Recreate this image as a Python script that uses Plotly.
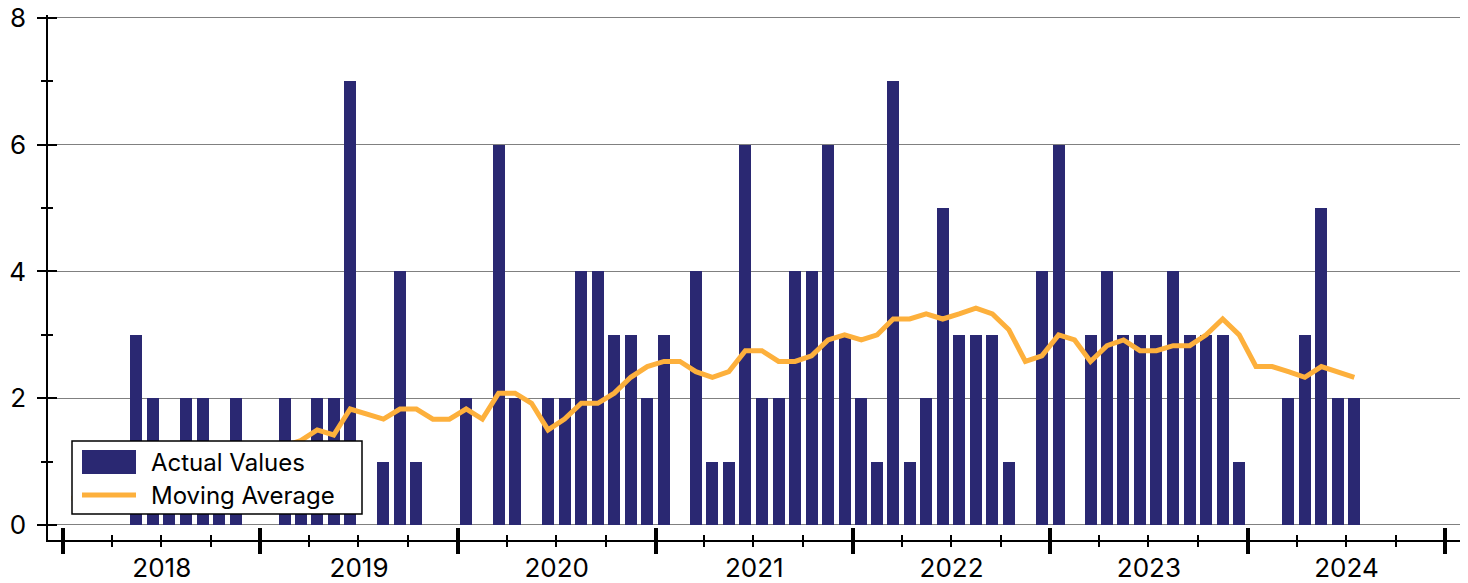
import pandas as pd
import plotly.graph_objects as go

# monthly counts, Jan 2018 .. Jul 2024
actual_values = [
	0, 0, 0, 0, 3, 2, 1, 2, 2, 1, 2, 0,
	0, 2, 1, 2, 2, 7, 0, 1, 4, 1, 0, 0,
	2, 0, 6, 2, 0, 2, 2, 4, 4, 3, 3, 2,
	3, 0, 4, 1, 1, 6, 2, 2, 4, 4, 6, 3,
	2, 1, 7, 1, 2, 5, 3, 3, 3, 1, 0, 4,
	6, 0, 3, 4, 3, 3, 3, 4, 3, 3, 3, 1,
	0, 0, 2, 3, 5, 2, 2,
]
moving_average = [
	0.42, 0.42, 0.33, 0.33, 0.50, 0.58, 0.67, 0.83, 0.92, 0.92, 1.08, 1.08,
	1.08, 1.25, 1.33, 1.50, 1.42, 1.83, 1.75, 1.67, 1.83, 1.83, 1.67, 1.67,
	1.83, 1.67, 2.08, 2.08, 1.92, 1.50, 1.67, 1.92, 1.92, 2.08, 2.33, 2.50,
	2.58, 2.58, 2.42, 2.33, 2.42, 2.75, 2.75, 2.58, 2.58, 2.67, 2.92, 3.00,
	2.92, 3.00, 3.25, 3.25, 3.33, 3.25, 3.33, 3.42, 3.33, 3.08, 2.58, 2.67,
	3.00, 2.92, 2.58, 2.83, 2.92, 2.75, 2.75, 2.83, 2.83, 3.00, 3.25, 3.00,
	2.50, 2.50, 2.42, 2.33, 2.50, 2.42, 2.33,
]
months = pd.date_range('2018-01-01', periods=len(actual_values), freq='MS')
legend_labels = ['Actual Values', 'Moving Average']

BAR_COLOR = '#2a2872'
LINE_COLOR = '#fdb03c'
FONT = 'Inter'

# figure fills the whole 1468 x 583 window (page margin removed on load)
W, H = 1468, 583
L, R, T, B = 48, 1460, 15, 540
x_range = ['2017-12-04', '2025-01-28']
y_range = [-0.237, 8.047]


def px_x(p):
	return (p - L) / (R - L)


def px_y(p):
	return (B - p) / (B - T)


fig = go.Figure()
fig.add_trace(go.Bar(
	x=months, y=actual_values, name=legend_labels[0],
	xperiod='M1', xperiodalignment='middle',
	width=22.2 * 86400000,
	marker={'color': BAR_COLOR, 'line': {'width': 0}},
	showlegend=False,
))
fig.add_trace(go.Scatter(
	x=months, y=moving_average, name=legend_labels[1], mode='lines',
	xperiod='M1', xperiodalignment='middle',
	line={'color': LINE_COLOR, 'width': 5},
	showlegend=False,
))
# empty trace so the mirrored (inside) tick axes get drawn
fig.add_trace(go.Scatter(x=[], y=[], xaxis='x2', yaxis='y2', showlegend=False, hoverinfo='skip'))

common_x = {
	'type': 'date', 'range': x_range, 'automargin': False,
	'tick0': '2018-01-01', 'dtick': 'M12',
	'ticklen': 12, 'tickwidth': 4, 'tickcolor': 'black',
	'showgrid': False, 'zeroline': False,
}
common_y = {
	'range': y_range, 'tick0': 0, 'dtick': 2, 'automargin': False,
	'ticklen': 9, 'tickwidth': 1.5, 'tickcolor': 'black', 'zeroline': False,
}

fig.update_layout(
	width=W, height=H,
	margin={'l': L, 'r': W - R, 't': T, 'b': H - B},
	paper_bgcolor='white', plot_bgcolor='white',
	font={'family': FONT, 'color': 'black'},
	bargap=0,
	xaxis={
		**common_x, 'ticks': 'outside',
		'ticklabelmode': 'period', 'tickformat': '%Y',
		'tickfont': {'size': 26}, 'ticklabelstandoff': -8,
		'ticklabeloverflow': 'allow',
		'showline': True, 'linecolor': 'black', 'linewidth': 1.5,
		'minor': {'dtick': 'M3', 'tick0': '2018-01-01', 'ticks': 'outside', 'ticklen': 5, 'tickwidth': 1.5, 'tickcolor': 'black'},
	},
	xaxis2={
		**common_x, 'ticks': 'inside', 'overlaying': 'x', 'anchor': 'y2',
		'showticklabels': False, 'showline': False,
		'minor': {'dtick': 'M3', 'tick0': '2018-01-01', 'ticks': 'inside', 'ticklen': 5, 'tickwidth': 1.5, 'tickcolor': 'black'},
	},
	yaxis={
		**common_y, 'ticks': 'outside',
		'tickfont': {'size': 26}, 'ticklabelstandoff': 6,
		'ticklabeloverflow': 'allow',
		'showgrid': True, 'gridcolor': '#808080', 'gridwidth': 1.2,
		'showline': True, 'linecolor': 'black', 'linewidth': 1.5,
		'minor': {'dtick': 1, 'ticks': 'outside', 'ticklen': 5, 'tickwidth': 1.5, 'tickcolor': 'black'},
	},
	yaxis2={
		**common_y, 'ticks': 'inside', 'overlaying': 'y', 'anchor': 'x2',
		'showticklabels': False, 'showgrid': False, 'showline': False,
		'minor': {'dtick': 1, 'ticks': 'inside', 'ticklen': 5, 'tickwidth': 1.5, 'tickcolor': 'black'},
	},
)

# legend box drawn by hand so the symbols match the reference sizes
fig.add_shape(type='rect', xref='paper', yref='paper',
	x0=px_x(72), x1=px_x(362), y0=px_y(514), y1=px_y(441),
	fillcolor='white', line={'color': 'black', 'width': 1.5}, layer='above')
fig.add_shape(type='rect', xref='paper', yref='paper',
	x0=px_x(82), x1=px_x(136), y0=px_y(474), y1=px_y(450),
	fillcolor=BAR_COLOR, line={'width': 0}, layer='above')
fig.add_shape(type='line', xref='paper', yref='paper',
	x0=px_x(82), x1=px_x(136), y0=px_y(495), y1=px_y(495),
	line={'color': LINE_COLOR, 'width': 5}, layer='above')
for label, ypx in zip(legend_labels, [462, 495]):
	fig.add_annotation(
		text=label, xref='paper', yref='paper', x=px_x(149), y=px_y(ypx),
		xanchor='left', yanchor='middle', showarrow=False,
		font={'size': 24, 'family': FONT, 'color': 'black'},
	)

fig.write_html(
	'out.html',
	config={'displayModeBar': False},
	post_script="document.body.style.margin = '0';",
)
